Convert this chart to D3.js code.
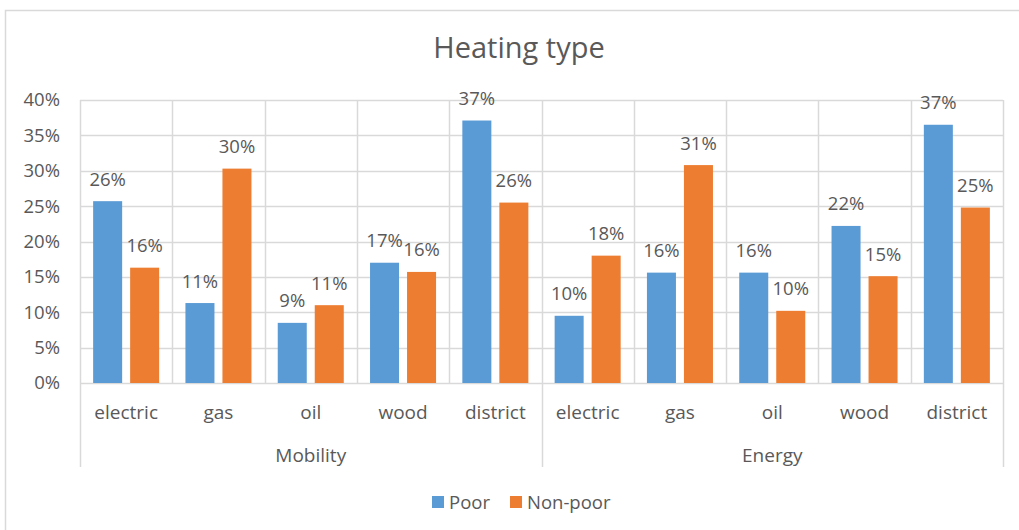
<!DOCTYPE html>
<html>
<head>
<meta charset="utf-8">
<script src="https://cdn.jsdelivr.net/npm/d3@7"></script>
<style>
  html, body { margin: 0; padding: 0; background: #fff; }
  svg { display: block; }
  text { font-family: "Open Sans", "Noto Sans", sans-serif; fill: #595959; }
</style>
</head>
<body>
<svg id="chart" width="1019" height="530"></svg>
<script>
// Share of households by heating type, poor vs non-poor, for two poverty measures
const groups = ["Mobility", "Energy"];
const types = ["electric", "gas", "oil", "wood", "district"];
const series = ["Poor", "Non-poor"];
const poorValues = [25.7, 11.3, 8.5, 17.0, 37.1, 9.5, 15.6, 15.6, 22.2, 36.5];
const nonPoorValues = [16.3, 30.3, 11.0, 15.7, 25.5, 18.0, 30.8, 10.2, 15.1, 24.8];
const yTicks = [0, 5, 10, 15, 20, 25, 30, 35, 40];
const colors = ["#5B9BD5", "#ED7D31"];

const W = 1019, H = 530;
const margin = { left: 80, right: 16, top: 100, bottom: 147 };
const plotRight = W - margin.right;
const plotBottom = H - margin.bottom;

const svg = d3.select("#chart");

// Chart frame
svg.append("rect")
  .attr("x", 5.5).attr("y", 10.5)
  .attr("width", W + 20).attr("height", H + 20)
  .attr("fill", "#fff").attr("stroke", "#D9D9D9").attr("stroke-width", 1.5);

// Rows: one per (group, type)
const rows = [];
groups.forEach((g, gi) => types.forEach((t, ti) => {
  const i = gi * types.length + ti;
  rows.push({ key: g + "|" + t, group: g, type: t, values: [poorValues[i], nonPoorValues[i]] });
}));

const x = d3.scaleBand().domain(rows.map(r => r.key)).range([margin.left, plotRight]).padding(0);
const xs = d3.scaleBand().domain(series).range([0, x.bandwidth()])
  .paddingInner(0.216).paddingOuter(0.355);
const y = d3.scaleLinear().domain([0, 40]).range([plotBottom, margin.top]);

const grid = "#D9D9D9";

// Horizontal gridlines
svg.append("g").selectAll("line").data(yTicks).join("line")
  .attr("x1", margin.left).attr("x2", plotRight)
  .attr("y1", d => Math.round(y(d)) + 0.5).attr("y2", d => Math.round(y(d)) + 0.5)
  .attr("stroke", grid).attr("stroke-width", 1.5);

// Vertical gridlines at category boundaries; group boundaries run down through the label rows
const bounds = rows.map(r => x(r.key)).concat([plotRight]);
svg.append("g").selectAll("line").data(bounds).join("line")
  .attr("x1", d => Math.round(d) + 0.5).attr("x2", d => Math.round(d) + 0.5)
  .attr("y1", y(40)).attr("y2", (d, i) => (i % types.length === 0) ? 467 : plotBottom)
  .attr("stroke", grid).attr("stroke-width", 1.5);

// Y axis labels
const yAxis = d3.axisLeft(y).tickValues(yTicks).tickFormat(d => d + "%").tickSize(0).tickPadding(20);
const ya = svg.append("g").attr("transform", `translate(${margin.left},0)`).call(yAxis);
ya.select(".domain").remove();
ya.selectAll("text").attr("font-size", 18.5).attr("fill", "#595959")
  .attr("font-family", "Open Sans, Noto Sans, sans-serif");

// Bars
const rowG = svg.append("g").selectAll("g").data(rows).join("g")
  .attr("transform", r => `translate(${x(r.key)},0)`);

rowG.selectAll("rect").data(r => r.values.map((v, i) => ({ s: series[i], v, i }))).join("rect")
  .attr("x", d => xs(d.s)).attr("width", xs.bandwidth())
  .attr("y", d => y(d.v)).attr("height", d => y(0) - y(d.v))
  .attr("fill", d => colors[d.i]);

// Value labels
rowG.selectAll("text.val").data(r => r.values.map((v, i) => ({ s: series[i], v, i }))).join("text")
  .attr("class", "val")
  .attr("x", d => xs(d.s) + xs.bandwidth() / 2)
  .attr("y", d => y(d.v) - 15.5)
  .attr("text-anchor", "middle").attr("font-size", 18.5)
  .text(d => Math.round(d.v) + "%");

// Category labels
svg.append("g").selectAll("text").data(rows).join("text")
  .attr("x", r => x(r.key) + x.bandwidth() / 2).attr("y", 418.5)
  .attr("text-anchor", "middle").attr("font-size", 19)
  .text(r => r.type);

// Group labels
svg.append("g").selectAll("text").data(groups).join("text")
  .attr("x", g => {
    const ks = rows.filter(r => r.group === g).map(r => x(r.key));
    return (d3.min(ks) + d3.max(ks) + x.bandwidth()) / 2;
  })
  .attr("y", 461.5).attr("text-anchor", "middle").attr("font-size", 19)
  .text(g => g);

// Title
svg.append("text").attr("x", 519).attr("y", 58)
  .attr("text-anchor", "middle").attr("font-size", 29)
  .text("Heating type");

// Legend
const legend = svg.append("g");
const legendX = [432, 510];
series.forEach((s, i) => {
  legend.append("rect").attr("x", legendX[i]).attr("y", 496)
    .attr("width", 12).attr("height", 12).attr("fill", colors[i]);
  legend.append("text").attr("x", legendX[i] + 17).attr("y", 508.5)
    .attr("font-size", 18.5).text(s);
});
</script>
</body>
</html>
